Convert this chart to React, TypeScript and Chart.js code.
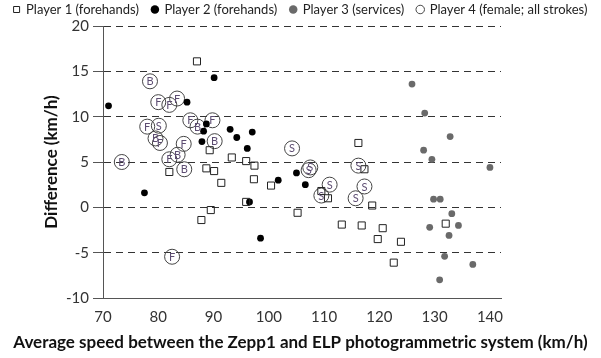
import React, { useEffect, useRef } from 'react';
import { Chart, registerables } from 'chart.js';

Chart.register(...registerables);

const seriesNames = [
  'Player 1 (forehands)',
  'Player 2 (forehands)',
  'Player 3 (services)',
  'Player 4 (female; all strokes)',
];

const xTitle = 'Average speed between the Zepp1 and ELP photogrammetric system (km/h)';
const yTitle = 'Difference (km/h)';

const xTicks = [70, 80, 90, 100, 110, 120, 130, 140];
const yTicks = [20, 15, 10, 5, 0, -5, -10];

// Player 1 (forehands) – open squares
const p1X = [87.0, 82.0, 89.3, 88.7, 90.1, 91.4, 93.3, 95.9, 97.4, 97.3, 100.4, 95.9, 89.5, 87.8, 105.2, 109.5, 110.7, 116.2, 117.3, 118.7, 113.2, 116.8, 120.6, 119.7, 123.9, 122.6, 132.0];
const p1Y = [16.1, 3.9, 6.3, 4.3, 4.0, 2.7, 5.5, 5.1, 4.6, 3.1, 2.4, 0.6, -0.3, -1.4, -0.6, 1.8, 1.0, 7.1, 4.2, 0.2, -1.9, -2.0, -2.3, -3.5, -3.8, -6.1, -1.8];

// Player 2 (forehands) – black dots
const p2X = [71.0, 85.2, 90.1, 88.7, 88.2, 93.0, 94.2, 87.9, 96.1, 101.7, 77.5, 96.5, 98.5, 97.0, 105.0, 106.6];
const p2Y = [11.2, 11.6, 14.3, 9.2, 8.4, 8.6, 7.7, 7.25, 6.5, 3.0, 1.6, 0.6, -3.4, 8.3, 3.8, 2.5];

// Player 3 (services) – grey dots
const p3X = [125.9, 128.2, 132.8, 128.0, 129.5, 140.0, 129.8, 131.0, 133.1, 129.1, 134.3, 132.6, 131.8, 136.9, 130.9];
const p3Y = [13.6, 10.4, 7.8, 6.3, 5.3, 4.4, 0.9, 0.9, -0.7, -2.2, -2.0, -3.1, -5.4, -6.3, -8.0];

// Player 4 (female; all strokes) – open circles with stroke letter
const p4X = [78.5, 80.0, 82.0, 83.4, 78.0, 80.1, 79.5, 80.3, 85.8, 87.1, 89.8, 90.2, 84.6, 73.4, 82.0, 83.5, 84.7, 82.5, 104.2, 107.5, 107.2, 111.0, 109.5, 116.2, 117.3, 115.7];
const p4Y = [13.9, 11.6, 11.3, 12.0, 8.9, 9.0, 7.6, 7.1, 9.6, 8.9, 9.6, 7.3, 7.0, 5.0, 5.3, 5.8, 4.2, -5.45, 6.5, 4.4, 4.1, 2.5, 1.3, 4.6, 2.3, 1.0];
const p4Letters = ['B', 'F', 'F', 'F', 'F', 'S', 'B', 'F', 'F', 'B', 'F', 'B', 'F', 'B', 'F', 'B', 'B', 'F', 'S', 'S', 'S', 'S', 'S', 'S', 'S', 'S'];

const zip = (xs: number[], ys: number[]) => xs.map((x, i) => ({ x, y: ys[i] }));

const FONT = 'Lato, Roboto, sans-serif';

export default function App() {
  const ref = useRef<HTMLCanvasElement>(null);

  useEffect(() => {
    if (!ref.current) return;
    const letterPlugin = {
      id: 'p4letters',
      afterDatasetsDraw(chart: any) {
        const meta = chart.getDatasetMeta(3);
        const ctx = chart.ctx;
        ctx.save();
        ctx.font = '11px ' + FONT;
        ctx.fillStyle = '#5d4d72';
        ctx.textAlign = 'center';
        ctx.textBaseline = 'middle';
        meta.data.forEach((pt: any, i: number) => {
          ctx.fillText(p4Letters[i], pt.x, pt.y + 0.5);
        });
        ctx.restore();
      },
    };

    const chart = new Chart(ref.current, {
      type: 'scatter',
      data: {
        datasets: [
          {
            label: seriesNames[0],
            data: zip(p1X, p1Y),
            pointStyle: 'rect',
            pointRadius: 5,
            backgroundColor: 'rgba(255,255,255,0)',
            borderColor: '#222',
            borderWidth: 1,
          },
          {
            label: seriesNames[1],
            data: zip(p2X, p2Y),
            pointStyle: 'circle',
            pointRadius: 3.4,
            backgroundColor: '#000',
            borderColor: '#000',
            borderWidth: 0,
          },
          {
            label: seriesNames[2],
            data: zip(p3X, p3Y),
            pointStyle: 'circle',
            pointRadius: 3.4,
            backgroundColor: '#6a6a6a',
            borderColor: '#6a6a6a',
            borderWidth: 0,
          },
          {
            label: seriesNames[3],
            data: zip(p4X, p4Y),
            pointStyle: 'circle',
            pointRadius: 7.5,
            backgroundColor: 'rgba(255,255,255,0)',
            borderColor: '#444',
            borderWidth: 1,
          },
        ],
      },
      options: {
        animation: false,
        responsive: false,
        events: [],
        layout: { padding: { top: -10, left: 0, right: 0, bottom: 0 } },
        plugins: {
          tooltip: { enabled: false },
          legend: {
            display: true,
            position: 'top',
            labels: {
              usePointStyle: true,
              boxHeight: 6,
              boxWidth: 6,
              padding: 13,
              color: '#222',
              font: { family: FONT, size: 13 },
            },
          },
          title: {
            display: true,
            position: 'bottom',
            text: xTitle,
            color: '#111',
            font: { family: FONT, size: 17, weight: 'bold' },
            padding: { top: 6, bottom: 5.6 },
          },
        },
        scales: {
          x: {
            type: 'linear',
            min: 70,
            max: 142,
            afterBuildTicks: (s: any) => {
              s.ticks = xTicks.map((v) => ({ value: v }));
            },
            afterFit: (s: any) => {
              s.height = 28;
            },
            grid: { display: false, drawTicks: false },
            border: { display: true, color: '#555', width: 1 },
            ticks: {
              color: '#333',
              padding: 10,
              font: { family: FONT, size: 15 },
            },
          },
          y: {
            type: 'linear',
            min: -10,
            max: 20,
            afterBuildTicks: (s: any) => {
              s.ticks = yTicks.map((v) => ({ value: v }));
            },
            afterFit: (s: any) => {
              s.width = 103;
            },
            grid: {
              display: true,
              color: (c: any) => (c.tick && c.tick.value === -10 ? 'rgba(0,0,0,0)' : '#333'),
              lineWidth: 1,
              tickLength: 10,
              tickColor: '#555',
              tickWidth: 1,
            },
            border: { display: true, color: '#555', width: 1, dash: [7, 5] },
            ticks: {
              color: '#333',
              padding: 4,
              font: { family: FONT, size: 15 },
            },
            title: {
              display: true,
              text: yTitle,
              color: '#111',
              font: { family: FONT, size: 17, weight: 'bold' },
              padding: { top: 41, bottom: 0 },
            },
          },
          y2: {
            type: 'linear',
            position: 'right',
            display: true,
            afterFit: (s: any) => {
              s.width = 100;
            },
            grid: { display: false, drawTicks: false },
            border: { display: false },
            ticks: { display: false },
          },
        },
      } as any,
      plugins: [letterPlugin],
    });
    return () => chart.destroy();
  }, []);

  return (
    <div style={{ position: 'absolute', left: 0, top: 0, width: 601, height: 358, background: '#fff' }}>
      <canvas ref={ref} width={601} height={358} style={{ display: 'block', width: 601, height: 358 }} />
    </div>
  );
}
